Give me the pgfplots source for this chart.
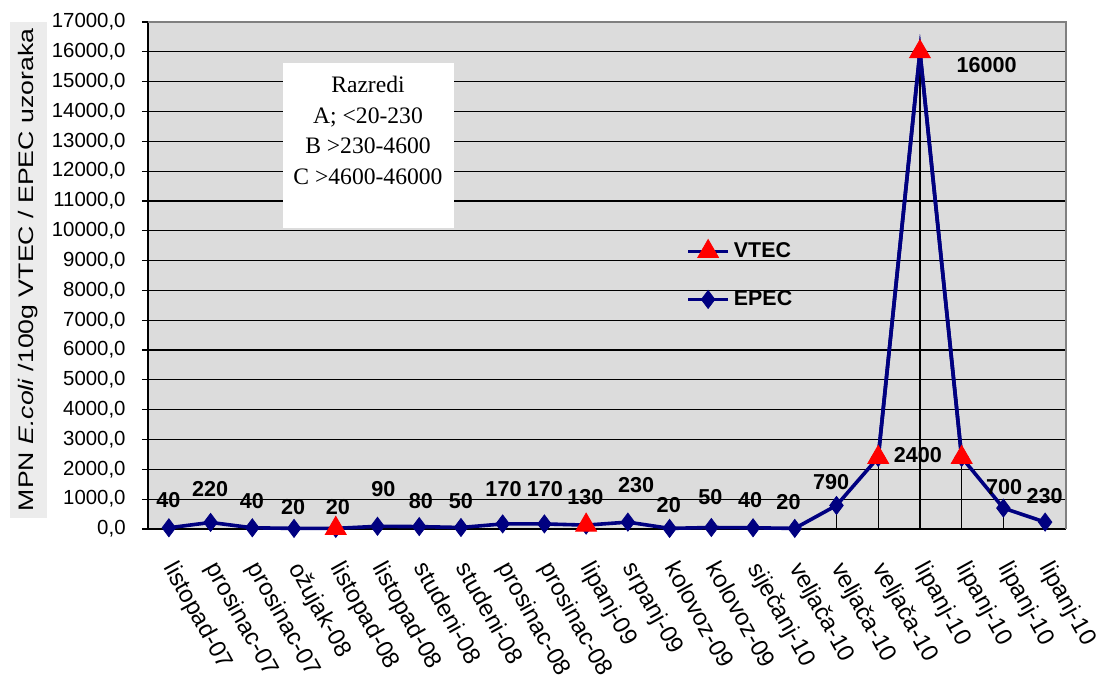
\documentclass[border=0pt]{standalone}
\usepackage{fontspec}
\setmainfont{Liberation Sans}
\newfontfamily\serif{Liberation Serif}
\newfontfamily\ylabfont[FakeStretch=1.27]{Liberation Sans}
\usepackage{pgfplots}
\pgfplotsset{compat=1.18}
\definecolor{navy}{RGB}{0,0,128}
\definecolor{plotbg}{RGB}{220,220,220}
\definecolor{labbg}{RGB}{236,236,236}

\begin{document}
\begin{tikzpicture}
\path[use as bounding box] (-74pt,-79.5pt) rectangle (475.5pt,264.5pt);
\begin{axis}[
  scale only axis, width=459pt, height=253.5pt,
  xmin=-0.5, xmax=21.5, ymin=0, ymax=17000,
  clip=false,
  axis background/.style={fill=plotbg},
  axis x line*=bottom, axis y line*=left,
  axis line style={black, line width=0.6pt},
  ytick distance=1000,
  ymajorgrids, grid style={black, line width=0.6pt},
  tick align=outside, major tick length=3pt,
  ytick style={black, line width=0.6pt},
  xtick style={draw=none},
  xtick={0,...,21},
  xticklabels={listopad-07, prosinac-07, prosinac-07, ožujak-08, listopad-08, listopad-08, studeni-08, studeni-08, prosinac-08, prosinac-08, lipanj-09, srpanj-09, kolovoz-09, kolovoz-09, siječanj-10, veljača-10, veljača-10, veljača-10, lipanj-10, lipanj-10, lipanj-10, lipanj-10},
  xticklabel style={font=\fontsize{12}{14}\selectfont, xshift=5pt, yshift=2pt, rotate=-61, anchor=north west, inner sep=0pt},
  xticklabel shift=14pt,
  yticklabel style={font=\fontsize{10.2}{12}\selectfont, anchor=east, inner sep=0pt},
  yticklabel shift=8pt,
  /pgf/number format/assume math mode=true,
  /pgf/number format/.cd, fixed, fixed zerofill, precision=1, use comma, 1000 sep={},
  /pgfplots/.cd,
  scaled y ticks=false,
  every axis y label/.style={at={(rel axis cs:-0.1302,0.511)}, rotate=90, anchor=center,
    fill=labbg, minimum width=248pt, minimum height=18.5pt, inner sep=0pt,
    font=\ylabfont\fontsize{10.5}{12}\selectfont},
  ylabel={MPN \textit{E.coli} /100g VTEC / EPEC uzoraka},
  legend style={at={(rel axis cs:0.586,0.50)}, anchor=west, draw=none, fill=none,
    font=\bfseries\fontsize{10.7}{12}\selectfont, row sep=11pt, inner sep=0pt,
    nodes={inner sep=2pt}},
  legend cell align=left,
  reverse legend,
  legend image code/.code={\draw[mark repeat=2,mark phase=2,#1] plot coordinates {(0pt,0pt) (10pt,0pt) (20pt,0pt)};},
]
% drop lines
\addplot[ycomb, black, line width=0.6pt, forget plot] coordinates {
  (0,40) (1,220) (2,40) (3,20) (4,20) (5,90) (6,80) (7,50) (8,170) (9,170) (10,130)
  (11,230) (12,20) (13,50) (14,40) (15,20) (16,790) (17,2400) (18,16000) (19,2400) (20,700) (21,230)};
% EPEC
\addplot[navy, line width=1.8pt, mark=diamond*, mark size=4.5pt,
  mark options={fill=navy, line width=0.4pt}] coordinates {
  (0,40) (1,220) (2,40) (3,20) (4,20) (5,90) (6,80) (7,50) (8,170) (9,170) (10,130)
  (11,230) (12,20) (13,50) (14,40) (15,20) (16,790) (17,2400) (18,16000) (19,2400) (20,700) (21,230)};
\addlegendentry{EPEC}
% VTEC
\addplot[navy, line width=1.8pt, mark=triangle*, mark size=6pt, unbounded coords=jump,
  mark options={draw=red, fill=red, line width=0.4pt}] coordinates {
  (4,20) (5,nan) (10,130) (11,nan) (17,2400) (18,16000) (19,2400)};
\addlegendentry{VTEC}
% data labels
\addplot[only marks, mark=none, forget plot, nodes near coords, point meta=explicit symbolic,
  every node near coord/.append style={anchor=center, inner sep=0pt,
    font=\bfseries\fontsize{10.8}{12}\selectfont}] table[meta=lab] {
x y lab
-0.01 956 40
0.99 1351 220
1.99 939 40
2.98 738 20
4.05 738 20
5.14 1351 90
6.04 939 80
7.00 939 50
8.02 1351 170
9.01 1351 170
9.98 1083 130
11.20 1475 230
11.98 815 20
12.98 1056 50
13.93 972 40
14.85 915 20
15.87 1559 790
17.95 2481 2400
19.60 15558 16000
20.02 1391 700
20.99 1106 230
};
% class box
\fill[white] (axis cs:2.732,15625) rectangle (axis cs:6.832,10093);
\node[anchor=north, align=center, inner sep=0pt, font=\serif\fontsize{11.8}{15.25}\selectfont]
  at (axis cs:4.772,15189) {Razredi\\A; <20-230\\B >230-4600\\C >4600-46000};
% top and right border
\draw[gray, line width=0.6pt] (rel axis cs:0,1) -- (rel axis cs:1,1) -- (rel axis cs:1,0);
\end{axis}
\end{tikzpicture}
\end{document}
